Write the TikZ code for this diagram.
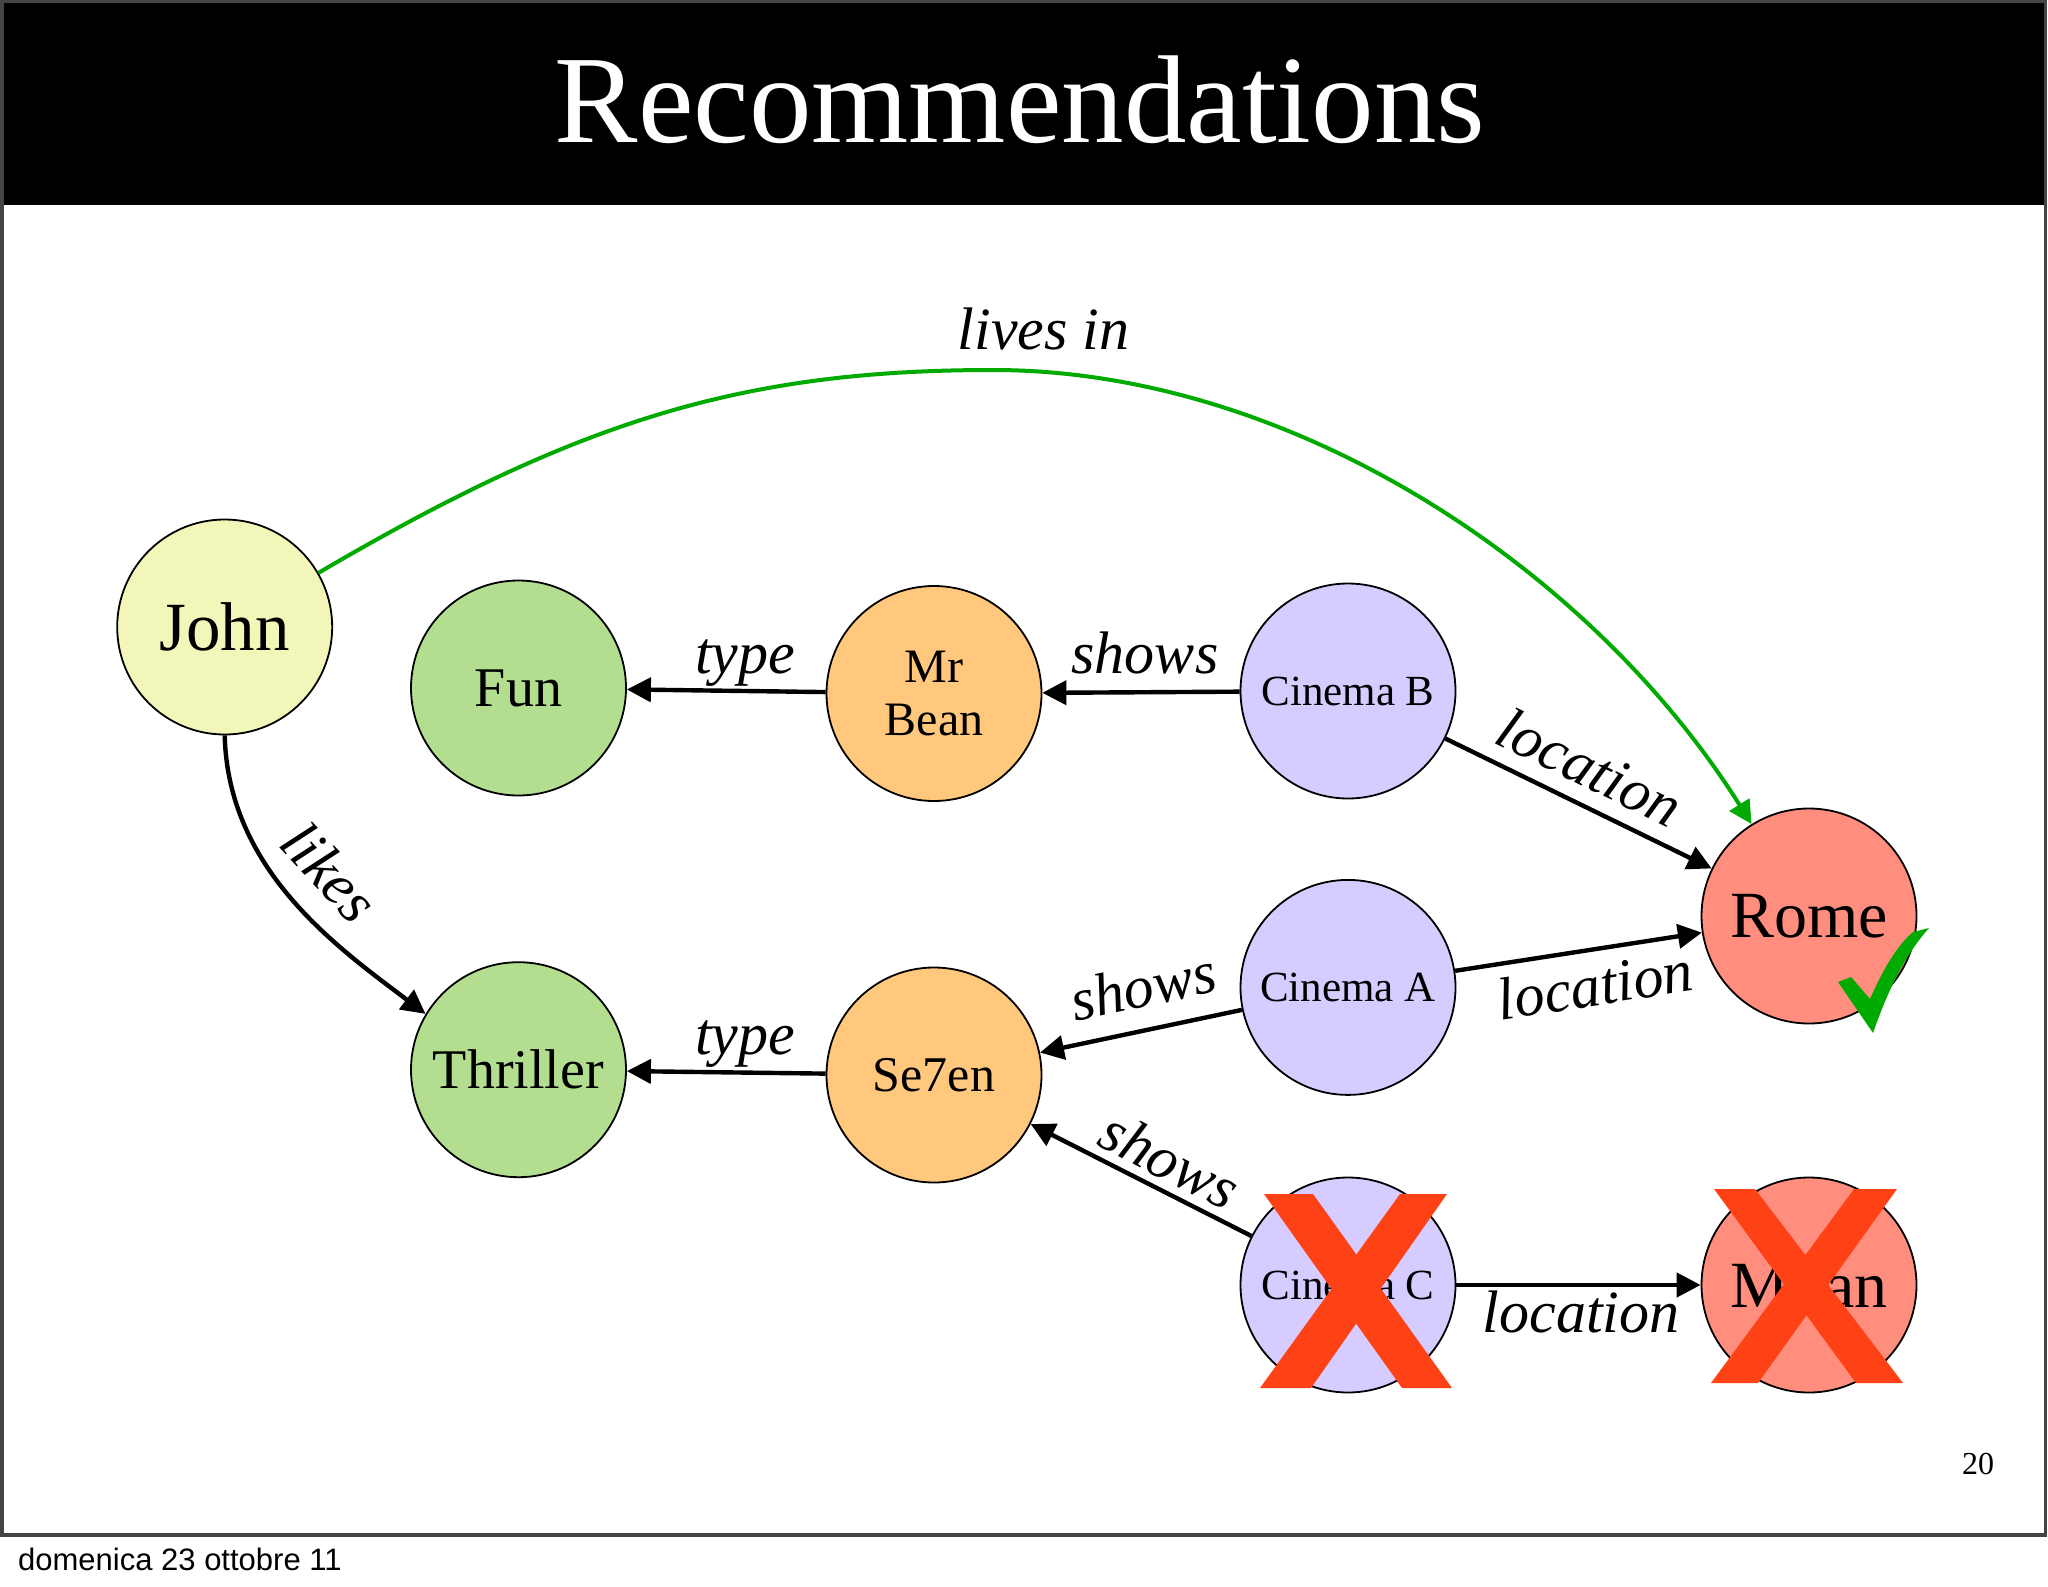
\documentclass[tikz,border=0pt]{standalone}
\usepackage{fontspec}
\setmainfont{Liberation Serif}
\newfontfamily\footfont{Liberation Sans}
\usetikzlibrary{arrows.meta}
\definecolor{johnfill}{HTML}{F2F7B9}
\definecolor{genrefill}{HTML}{B3DE8F}
\definecolor{moviefill}{HTML}{FFC87C}
\definecolor{cinemafill}{HTML}{D7CCFF}
\definecolor{cityfill}{HTML}{FF8E7E}
\definecolor{xred}{HTML}{FF4216}
\definecolor{okgreen}{HTML}{00AA00}
\definecolor{framegray}{HTML}{444444}
\begin{document}
\begin{tikzpicture}[x=1pt,y=-1pt,
  ent/.style={circle, draw=black, line width=1.8pt, minimum size=215pt, inner sep=0pt, align=center},
  edge/.style={line width=4.4pt, -{Triangle[length=24pt,width=24pt]}},
  lbl/.style={font=\fontsize{60}{66}\selectfont\itshape, inner sep=0pt},
]
\useasboundingbox (0,0) rectangle (2048,1587);
\fill[white] (0,0) rectangle (2048,1587);
\fill[black] (0,0) rectangle (2046,205);
\draw[framegray, line width=3.5pt] (1.75,1.75) rectangle (2045.5,1535);

\node[anchor=base, text=white, font=\fontsize{125}{132}\selectfont, inner sep=0pt] (title) at (1020,142) {Recommendations};
\node[anchor=base west, font=\footfont\fontsize{31}{36}\selectfont, inner sep=0pt] (footer) at (18,1570) {domenica 23 ottobre 11};
\node[anchor=base, font=\fontsize{32}{36}\selectfont, inner sep=0pt] (pagenum) at (1978,1474) {20};

% nodes
\node[ent, fill=johnfill, font=\fontsize{69}{75}\selectfont] (john) at (224.7,627) {John};
\node[ent, fill=genrefill, font=\fontsize{56}{62}\selectfont] (fun) at (518.5,688) {Fun};
\node[ent, fill=moviefill, font=\fontsize{48}{53.5}\selectfont] (mrbean) at (934,693.5) {Mr\\Bean};
\node[ent, fill=cinemafill, font=\fontsize{43}{48}\selectfont] (cinemab) at (1348,691) {Cinema B};
\node[ent, fill=cityfill, font=\fontsize{66}{72}\selectfont] (rome) at (1809,916) {Rome};
\node[ent, fill=cinemafill, font=\fontsize{43}{48}\selectfont] (cinemaa) at (1348,987.4) {Cinema A};
\node[ent, fill=genrefill, font=\fontsize{56}{62}\selectfont] (thriller) at (518.5,1069.7) {Thriller};
\node[ent, fill=moviefill, font=\fontsize{50}{56}\selectfont] (se7en) at (934,1075) {Se7en};
\node[ent, fill=cinemafill, font=\fontsize{43}{48}\selectfont] (cinemac) at (1348,1285) {Cinema C};
\node[ent, fill=cityfill, font=\fontsize{66}{72}\selectfont] (milan) at (1809,1285) {Milan};

% edges
\coordinate (peak) at (993,370);
\draw[okgreen, line width=4pt, -{Triangle[length=23pt,width=23pt]}]
  (john.30) .. controls (579,420) and (743,370) .. (peak)
  .. controls (1293,370) and (1592,569.5) .. (rome.122);
\draw[edge] (john.south) .. controls (228,870) and (337,947) .. (thriller.149);
\draw[edge] (mrbean) -- (fun);
\draw[edge] (cinemab) -- (mrbean);
\draw[edge] (cinemab) -- (rome);
\draw[edge] (cinemaa) -- (rome);
\draw[edge] (cinemaa) -- (se7en);
\draw[edge] (se7en) -- (thriller);
\draw[edge] (cinemac) -- (se7en);
\draw[edge] (cinemac) -- (milan);

% labels
\node[lbl, anchor=base] (llives) at (1043.6,349) {lives in};
\node[lbl, anchor=base] (ltype1) at (745,673) {type};
\node[lbl, anchor=base] (lshows1) at (1145,673) {shows};
\node[lbl, anchor=base] (ltype2) at (745,1054) {type};
\node[lbl, anchor=base] (lloc3) at (1581,1332) {location};
\node[lbl, rotate=-26] (lloc1) at (1590,767) {location};
\node[lbl, rotate=8.75] (lloc2) at (1595,985) {location};
\node[lbl, rotate=12] (lshows2) at (1143,986) {shows};
\node[lbl, rotate=-27] (lshows3) at (1170,1160) {shows};
\node[lbl, rotate=-47] (llikes) at (330,872) {likes};

% check mark
\fill[okgreen] (1838,982) -- (1851,977) -- (1870,999)
  .. controls (1885,965) and (1898,945) .. (1913,932) -- (1929,928)
  .. controls (1905,955) and (1888,990) .. (1873,1033) -- cycle;

% X marks
\fill[xred] (1264,1194) -- (1313,1194) -- (1452,1388) -- (1402,1388) -- cycle;
\fill[xred] (1400,1194) -- (1447,1194) -- (1311,1388) -- (1260,1388) -- cycle;
\fill[xred] (1714,1189) -- (1755,1189) -- (1903,1383) -- (1856,1383) -- cycle;
\fill[xred] (1854,1189) -- (1897,1189) -- (1758,1383) -- (1711,1383) -- cycle;
\end{tikzpicture}
\end{document}
